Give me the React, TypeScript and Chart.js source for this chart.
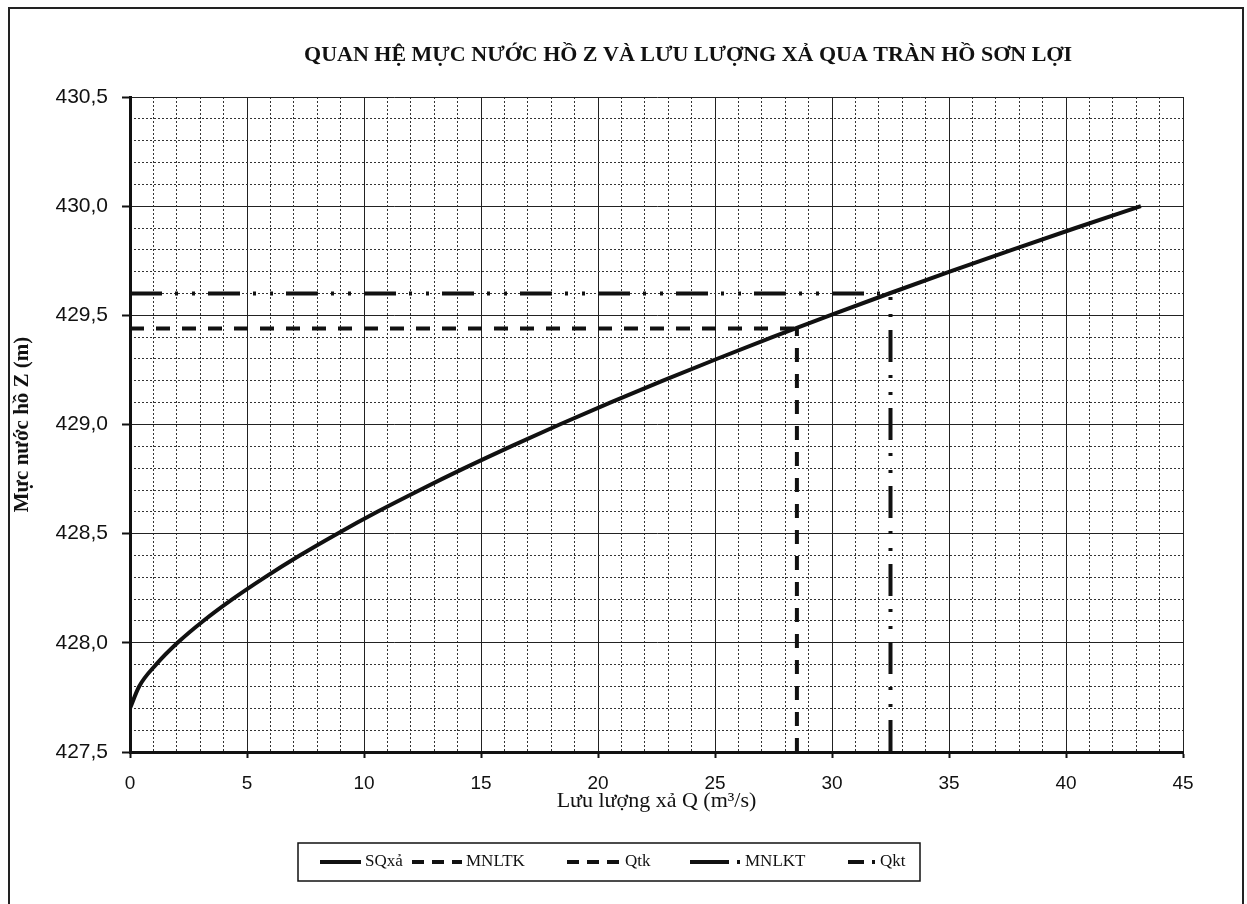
import React, { useEffect, useRef } from 'react';
import { Chart, registerables } from 'chart.js';

Chart.register(...registerables);

const TITLE = 'QUAN HỆ MỰC NƯỚC HỒ Z VÀ LƯU LƯỢNG XẢ QUA TRÀN HỒ SƠN LỢI';
const X_TITLE = 'Lưu lượng xả Q (m³/s)';
const Y_TITLE = 'Mực nước hồ Z (m)';

// Rating curve: reservoir level Z (m) vs spillway discharge Q (m3/s)
const levelZ = [
  427.7, 427.8, 427.9, 428.0, 428.1, 428.2, 428.3, 428.4, 428.5, 428.6, 428.7, 428.8,
  428.9, 429.0, 429.1, 429.2, 429.3, 429.4, 429.5, 429.6, 429.7, 429.8, 429.9, 430.0,
];
const dischargeQ = [
  0, 0.39, 1.11, 2.03, 3.13, 4.38, 5.76, 7.25, 8.86, 10.57, 12.39, 14.29,
  16.28, 18.36, 20.52, 22.75, 25.07, 27.45, 29.91, 32.44, 35.03, 37.69, 40.41, 43.2,
];

// Design / check flood values
const MNLTK = 429.44; // design flood level
const QTK = 28.5; // design discharge
const MNLKT = 429.6; // check flood level
const QKT = 32.5; // check discharge

const SERIES_LABELS = ['SQxả', 'MNLTK', 'Qtk', 'MNLKT', 'Qkt'];

const Q_MIN = 0;
const Q_MAX = 45;
const Z_MIN = 427.5;
const Z_MAX = 430.5;

const SERIF = '"Liberation Serif", "Times New Roman", serif';
const SANS = '"Liberation Sans", Arial, sans-serif';

const DASH = [14, 12];
const DASH_DOT = [32, 13, 3, 14, 3, 13];

// legend item layout (canvas px): sample start, text start
const LEGEND_SAMPLE_X = [310, 402, 557, 680, 838];
const LEGEND_TEXT_X = [355, 456, 615, 735, 870];

const titlePlugin = {
  id: 'customTitle',
  afterDraw(chart: any) {
    const ctx = chart.ctx;
    ctx.save();
    ctx.font = `bold 22px ${SERIF}`;
    ctx.fillStyle = '#111';
    ctx.textAlign = 'center';
    ctx.textBaseline = 'middle';
    ctx.fillText(TITLE, 678, 46);
    ctx.restore();
  },
};

const legendPlugin = {
  id: 'customLegend',
  afterDraw(chart: any) {
    const ctx = chart.ctx;
    const box = { left: 288, top: 834, right: 910, bottom: 872 };
    ctx.save();
    ctx.strokeStyle = '#111';
    ctx.lineWidth = 1.5;
    ctx.strokeRect(box.left, box.top, box.right - box.left, box.bottom - box.top);
    ctx.font = `17px ${SERIF}`;
    ctx.textBaseline = 'middle';
    ctx.fillStyle = '#111';
    const cy = (box.top + box.bottom) / 2;
    chart.data.datasets.forEach((ds: any, i: number) => {
      const dash = ds.borderDash || [];
      const x0 = LEGEND_SAMPLE_X[i];
      const x1 = LEGEND_TEXT_X[i] - 4;
      ctx.lineWidth = 4;
      ctx.strokeStyle = '#111';
      ctx.beginPath();
      if (dash.length > 2) {
        // long dash followed by a dot
        ctx.moveTo(x0, cy);
        ctx.lineTo(x1 - 12, cy);
        ctx.moveTo(x1 - 4, cy);
        ctx.lineTo(x1 - 1, cy);
      } else if (dash.length) {
        ctx.setLineDash([12, 8]);
        ctx.moveTo(x0, cy);
        ctx.lineTo(x1, cy);
      } else {
        ctx.moveTo(x0, cy);
        ctx.lineTo(x1, cy);
      }
      ctx.stroke();
      ctx.setLineDash([]);
      ctx.fillText(ds.label, LEGEND_TEXT_X[i], cy);
    });
    ctx.restore();
  },
};

export default function App() {
  const canvasRef = useRef<HTMLCanvasElement | null>(null);

  useEffect(() => {
    if (!canvasRef.current) return;
    const curve = dischargeQ.map((q, i) => ({ x: q, y: levelZ[i] }));
    const chart = new Chart(canvasRef.current, {
      type: 'line',
      data: {
        datasets: [
          {
            label: SERIES_LABELS[0],
            data: curve,
            borderColor: '#111',
            borderWidth: 4,
            pointRadius: 0,
            cubicInterpolationMode: 'monotone',
          },
          {
            label: SERIES_LABELS[1],
            data: [
              { x: Q_MIN, y: MNLTK },
              { x: QTK, y: MNLTK },
            ],
            borderColor: '#111',
            borderWidth: 4,
            borderDash: DASH,
            pointRadius: 0,
          },
          {
            label: SERIES_LABELS[2],
            data: [
              { x: QTK, y: Z_MIN },
              { x: QTK, y: MNLTK },
            ],
            borderColor: '#111',
            borderWidth: 4,
            borderDash: DASH,
            pointRadius: 0,
          },
          {
            label: SERIES_LABELS[3],
            data: [
              { x: Q_MIN, y: MNLKT },
              { x: QKT, y: MNLKT },
            ],
            borderColor: '#111',
            borderWidth: 4,
            borderDash: DASH_DOT,
            pointRadius: 0,
          },
          {
            label: SERIES_LABELS[4],
            data: [
              { x: QKT, y: Z_MIN },
              { x: QKT, y: MNLKT },
            ],
            borderColor: '#111',
            borderWidth: 4,
            borderDash: DASH_DOT,
            pointRadius: 0,
          },
        ],
      },
      options: {
        responsive: false,
        animation: false,
        layout: { padding: { left: 0, top: 88, right: 59, bottom: 90 } },
        plugins: {
          legend: { display: false },
          title: { display: false },
          tooltip: { enabled: false },
        },
        scales: {
          x: {
            type: 'linear',
            position: 'bottom',
            min: Q_MIN,
            max: Q_MAX,
            ticks: {
              stepSize: 5,
              color: '#111',
              padding: 14,
              font: { family: SANS, size: 19 },
              callback: (v: any) => String(v),
            },
            grid: { color: '#222', lineWidth: 1, tickLength: 6, tickColor: '#111', tickWidth: 2 },
            border: { color: '#111', width: 3 },
            title: {
              display: true,
              text: X_TITLE,
              color: '#111',
              font: { family: SERIF, size: 22 },
              padding: { top: 0, bottom: 0 },
            },
            afterFit: (s: any) => {
              s.height = 62;
            },
          },
          x2: {
            type: 'linear',
            position: 'bottom',
            min: Q_MIN,
            max: Q_MAX,
            ticks: { stepSize: 1, display: false },
            grid: {
              drawTicks: false,
              lineWidth: 1,
              color: (c: any) => (Math.round(c.tick.value) % 5 === 0 ? 'rgba(0,0,0,0)' : '#333'),
            },
            border: { display: false, dash: [2, 2] },
            afterFit: (s: any) => {
              s.height = 0;
            },
          },
          y: {
            type: 'linear',
            position: 'left',
            min: Z_MIN,
            max: Z_MAX,
            ticks: {
              stepSize: 0.5,
              color: '#111',
              padding: 14,
              font: { family: SANS, size: 21 },
              callback: (v: any) => Number(v).toFixed(1).replace('.', ','),
            },
            grid: { color: '#222', lineWidth: 1, tickLength: 8, tickColor: '#111', tickWidth: 2 },
            border: { color: '#111', width: 3 },
            title: {
              display: true,
              text: Y_TITLE,
              color: '#111',
              font: { family: SERIF, size: 21, weight: 'bold' },
              padding: { top: 0, bottom: 0 },
            },
            afterFit: (s: any) => {
              s.width = 120;
            },
          },
          y2: {
            type: 'linear',
            position: 'left',
            min: Z_MIN,
            max: Z_MAX,
            ticks: { stepSize: 0.1, display: false },
            grid: {
              drawTicks: false,
              lineWidth: 1,
              color: (c: any) => (Math.round(c.tick.value * 10) % 5 === 0 ? 'rgba(0,0,0,0)' : '#333'),
            },
            border: { display: false, dash: [2, 2] },
            afterFit: (s: any) => {
              s.width = 0;
            },
          },
        },
      },
      plugins: [titlePlugin, legendPlugin],
    } as any);
    return () => chart.destroy();
  }, []);

  return (
    <div
      style={{
        position: 'fixed',
        left: 8,
        top: 7,
        width: 1236,
        height: 897,
        boxSizing: 'border-box',
        borderLeft: '2px solid #222',
        borderTop: '2px solid #222',
        borderRight: '2px solid #222',
        background: '#fff',
      }}
    >
      <canvas ref={canvasRef} width={1232} height={895} style={{ display: 'block' }} />
    </div>
  );
}
